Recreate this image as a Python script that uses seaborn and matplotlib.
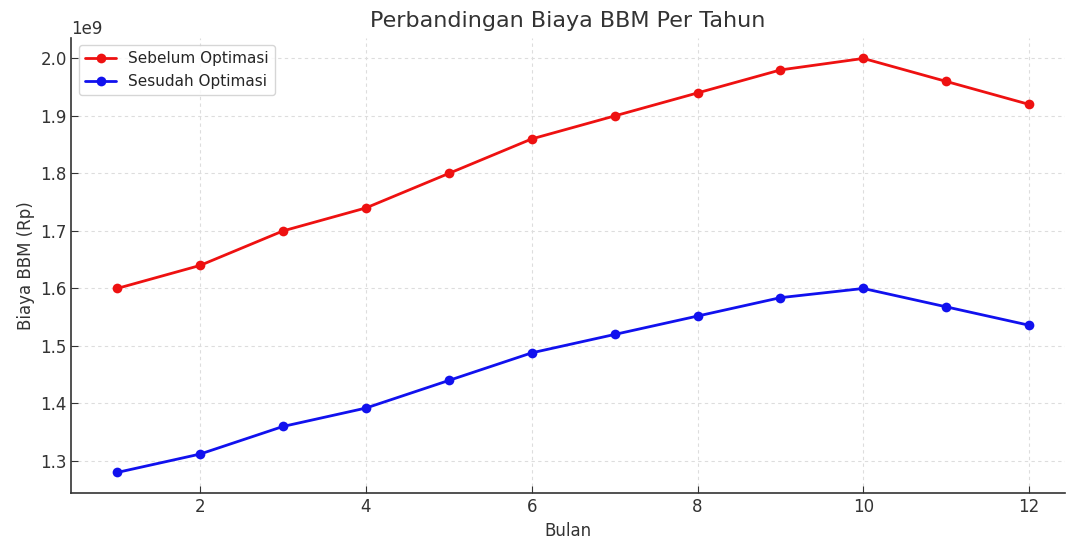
import numpy as np
import pandas as pd
import seaborn as sns
import matplotlib.pyplot as plt

bulan = [1, 2, 3, 4, 5, 6, 7, 8, 9, 10, 11, 12]
sebelum = [1.60e9, 1.64e9, 1.70e9, 1.74e9, 1.80e9, 1.86e9, 1.90e9, 1.94e9, 1.98e9, 2.00e9, 1.96e9, 1.92e9]
sesudah = [1.280e9, 1.312e9, 1.360e9, 1.392e9, 1.440e9, 1.488e9, 1.520e9, 1.552e9, 1.584e9, 1.600e9, 1.568e9, 1.536e9]

df = pd.DataFrame({
    'Bulan': bulan * 2,
    'Biaya': sebelum + sesudah,
    'Skenario': ['Sebelum Optimasi'] * 12 + ['Sesudah Optimasi'] * 12,
})

sns.set_style("ticks")
plt.rcParams['font.family'] = ['DejaVu Sans']

fig = plt.figure(figsize=(10.67, 5.39), dpi=100)
ax = fig.add_axes([0.067, 0.085, 0.931, 0.845])

sns.lineplot(data=df, x='Bulan', y='Biaya', hue='Skenario',
             palette={'Sebelum Optimasi': '#ee1111', 'Sesudah Optimasi': '#1111ee'},
             marker='o', markersize=7, markeredgewidth=0, linewidth=2, ax=ax)

ax.set_xlim(0.45, 12.43)
ax.grid(True, linestyle=(0, (3, 3)), color='#dddddd', linewidth=0.8)
for s in ['top', 'right']:
    ax.spines[s].set_visible(False)
for s in ['left', 'bottom']:
    ax.spines[s].set_color('#333333')
    ax.spines[s].set_linewidth(1.2)
ax.tick_params(direction='in', colors='#333333', labelsize=12, length=5)
ax.yaxis.get_offset_text().set_fontsize(12)
ax.yaxis.get_offset_text().set_color('#333333')

ax.set_title('Perbandingan Biaya BBM Per Tahun', fontsize=16, color='#333333', pad=8)
ax.set_xlabel('Bulan', fontsize=12, color='#333333')
ax.set_ylabel('Biaya BBM (Rp)', fontsize=12, color='#333333')
ax.legend(title=None, loc='upper left', fontsize=11)

fig.savefig('out.png', dpi=100)
